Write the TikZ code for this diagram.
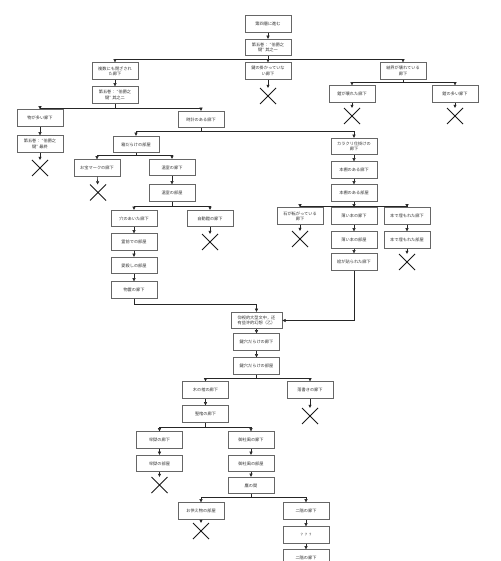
\documentclass[tikz,border=0pt]{standalone}
\usepackage{fontspec}
\newfontfamily\cjkf{Noto Sans CJK JP}
\usetikzlibrary{arrows.meta,shapes.misc}
\begin{document}
\begin{tikzpicture}[x=1pt,y=-1pt,
  box/.style={draw=black!60, line width=0.75pt, fill=white, minimum width=46pt, minimum height=16.5pt,
    inner xsep=1pt, inner ysep=1pt, align=center, text=black!80,
    font=\cjkf\fontsize{4.2}{5.2}\selectfont},
  xm/.style={cross out, draw=black!90, line width=1pt, minimum size=15pt, inner sep=0pt},
  arr/.style={draw=black!85, line width=0.55pt, -{Triangle[length=3.2pt,width=3pt]}},
  ln/.style={draw=black!85, line width=0.55pt}]
\path[use as bounding box, clip] (0,0) rectangle (500,561);
\fill[white] (0,0) rectangle (500,561);

% nodes
\node[box] (n1) at (268,24) {第四層に進む};
\node[box] (n2) at (268,47.5) {第五巻：\ “伯爵之\\键”\ 其之一};
\node[box] (n3) at (115,71) {複数にも閉ざされ\\た廊下};
\node[box] (n4) at (268,71) {鍵の掛かっていな\\い廊下};
\node[box] (n5) at (403,71) {結界が壊れている\\廊下};
\node[xm] (x4) at (268,96) {};
\node[box] (n6) at (115,95) {第五巻：\ “伯爵之\\键”\ 其之二};
\node[box] (n7) at (352,94) {鎧が壊れた廊下};
\node[box] (n8) at (455,94) {鎧の多い廊下};
\node[xm] (x7) at (352,116) {};
\node[xm] (x8) at (455,116) {};
\node[box] (n9) at (40,118) {物が多い廊下};
\node[box] (n10) at (201,119.5) {時計のある廊下};
\node[box] (n11) at (40,144) {第五巻：\ “伯爵之\\键”\ 最終};
\node[xm] (x11) at (40,168) {};
\node[box] (n12) at (136,144.5) {箱だらけの部屋};
\node[box] (n13) at (354,146.5) {カラクリ仕掛けの\\廊下};
\node[box] (n14) at (97,168) {お宝マークの廊下};
\node[box] (n15) at (172,167.5) {温室の廊下};
\node[xm] (x14) at (98,192.5) {};
\node[box] (n16) at (172,193) {温室の部屋};
\node[box] (n17) at (354,170) {本棚のある廊下};
\node[box] (n18) at (354,193) {本棚のある部屋};
\node[box] (n19) at (134,218.5) {穴のあいた廊下};
\node[box] (n20) at (210,218.5) {自動鎧の廊下};
\node[xm] (x20) at (210,242) {};
\node[box] (n21) at (134,242) {霊前での部屋};
\node[box] (n22) at (134,265.5) {愛殺しの部屋};
\node[box] (n23) at (134,290) {物置の廊下};
\node[box] (n24) at (300,216) {石が転がっている\\廊下};
\node[box] (n25) at (354,216) {薄い本の廊下};
\node[box] (n26) at (407,216) {本で埋もれた廊下};
\node[xm] (x24) at (300,239) {};
\node[box] (n27) at (354,240) {薄い本の部屋};
\node[box] (n28) at (407,240) {本で埋もれた部屋};
\node[xm] (x28) at (407,262) {};
\node[box] (n29) at (354,262) {絵が貼られた廊下};
\node[box, minimum width=51pt] (n30) at (256.5,320.5) {仰视的大型文中，还\\有些许的幻想（乙）};
\node[box] (n31) at (256.5,342) {鍵穴だらけの廊下};
\node[box] (n32) at (256.5,366) {鍵穴だらけの部屋};
\node[box] (n33) at (205.5,390) {木の棺の廊下};
\node[box] (n34) at (310,390) {落書きの廊下};
\node[xm] (x34) at (310,416) {};
\node[box] (n35) at (205.5,414) {聖棺の廊下};
\node[box] (n36) at (159.5,440) {牢獄の廊下};
\node[box] (n37) at (251,440) {御社風の廊下};
\node[box] (n38) at (159.5,463.5) {牢獄の部屋};
\node[box] (n39) at (251,463.5) {御社風の部屋};
\node[xm] (x38) at (159.5,485) {};
\node[box] (n40) at (251,485.5) {鷹の間};
\node[box] (n41) at (201,511) {お供え物の部屋};
\node[box] (n42) at (306,511) {二階の廊下};
\node[xm] (x41) at (201,531) {};
\node[box] (n43) at (306,535) {？？？};
\node[box] (n44) at (306,558) {二階の廊下};

% branch points
\coordinate (b2) at (268,59.5);
\coordinate (b5) at (403,82);
\coordinate (b6) at (115,108);
\coordinate (b10) at (201,131);
\coordinate (b12) at (136,155);
\coordinate (b16) at (172,206);
\coordinate (b18) at (354,206);
\coordinate (c23) at (256.5,304);
\coordinate (b32) at (256.5,378);
\coordinate (b35) at (205.5,427);
\coordinate (b40) at (251,497.5);

% connectors
\draw[arr] (n1) -- (n2);
\draw[ln] (n2) -- (b2);
\draw[arr] (b2) -| (n3.north);
\draw[arr] (b2) -- (n4.north);
\draw[arr] (b2) -| (n5.north);
\draw[arr] (n4) -- (x4);
\draw[arr] (n3) -- (n6);
\draw[ln] (n5) -- (b5);
\draw[arr] (b5) -| (n7.north);
\draw[arr] (b5) -| (n8.north);
\draw[arr] (n7) -- (x7);
\draw[arr] (n8) -- (x8);
\draw[ln] (n6) -- (b6);
\draw[arr] (b6) -| (n9.north);
\draw[arr] (b6) -| (n10.north);
\draw[arr] (n9) -- (n11);
\draw[arr] (n11) -- (x11);
\draw[ln] (n10) -- (b10);
\draw[arr] (b10) -| (n12.north);
\draw[arr] (b10) -| (n13.north);
\draw[ln] (n12) -- (b12);
\draw[arr] (b12) -| (n14.north);
\draw[arr] (b12) -| (n15.north);
\draw[arr] (n14) -- (x14);
\draw[arr] (n15) -- (n16);
\draw[ln] (n16) -- (b16);
\draw[arr] (b16) -| (n19.north);
\draw[arr] (b16) -| (n20.north);
\draw[arr] (n20) -- (x20);
\draw[arr] (n19) -- (n21);
\draw[arr] (n21) -- (n22);
\draw[arr] (n22) -- (n23);
\draw[arr] (n13) -- (n17);
\draw[arr] (n17) -- (n18);
\draw[ln] (n18) -- (b18);
\draw[arr] (b18) -| (n24.north);
\draw[arr] (b18) -- (n25.north);
\draw[arr] (b18) -| (n26.north);
\draw[arr] (n24) -- (x24);
\draw[arr] (n25) -- (n27);
\draw[arr] (n26) -- (n28);
\draw[arr] (n28) -- (x28);
\draw[arr] (n27) -- (n29);
\draw[arr] (n23.south) |- (c23) -- (n30.north);
\draw[arr] (n29.south) |- (n30.east);
\draw[arr] (n30) -- (n31);
\draw[arr] (n31) -- (n32);
\draw[ln] (n32) -- (b32);
\draw[arr] (b32) -| (n33.north);
\draw[arr] (b32) -| (n34.north);
\draw[arr] (n34) -- (x34);
\draw[arr] (n33) -- (n35);
\draw[ln] (n35) -- (b35);
\draw[arr] (b35) -| (n36.north);
\draw[arr] (b35) -| (n37.north);
\draw[arr] (n36) -- (n38);
\draw[arr] (n38) -- (x38);
\draw[arr] (n37) -- (n39);
\draw[arr] (n39) -- (n40);
\draw[ln] (n40) -- (b40);
\draw[arr] (b40) -| (n41.north);
\draw[arr] (b40) -| (n42.north);
\draw[arr] (n41) -- (x41);
\draw[arr] (n42) -- (n43);
\draw[arr] (n43) -- (n44);
\end{tikzpicture}
\end{document}
